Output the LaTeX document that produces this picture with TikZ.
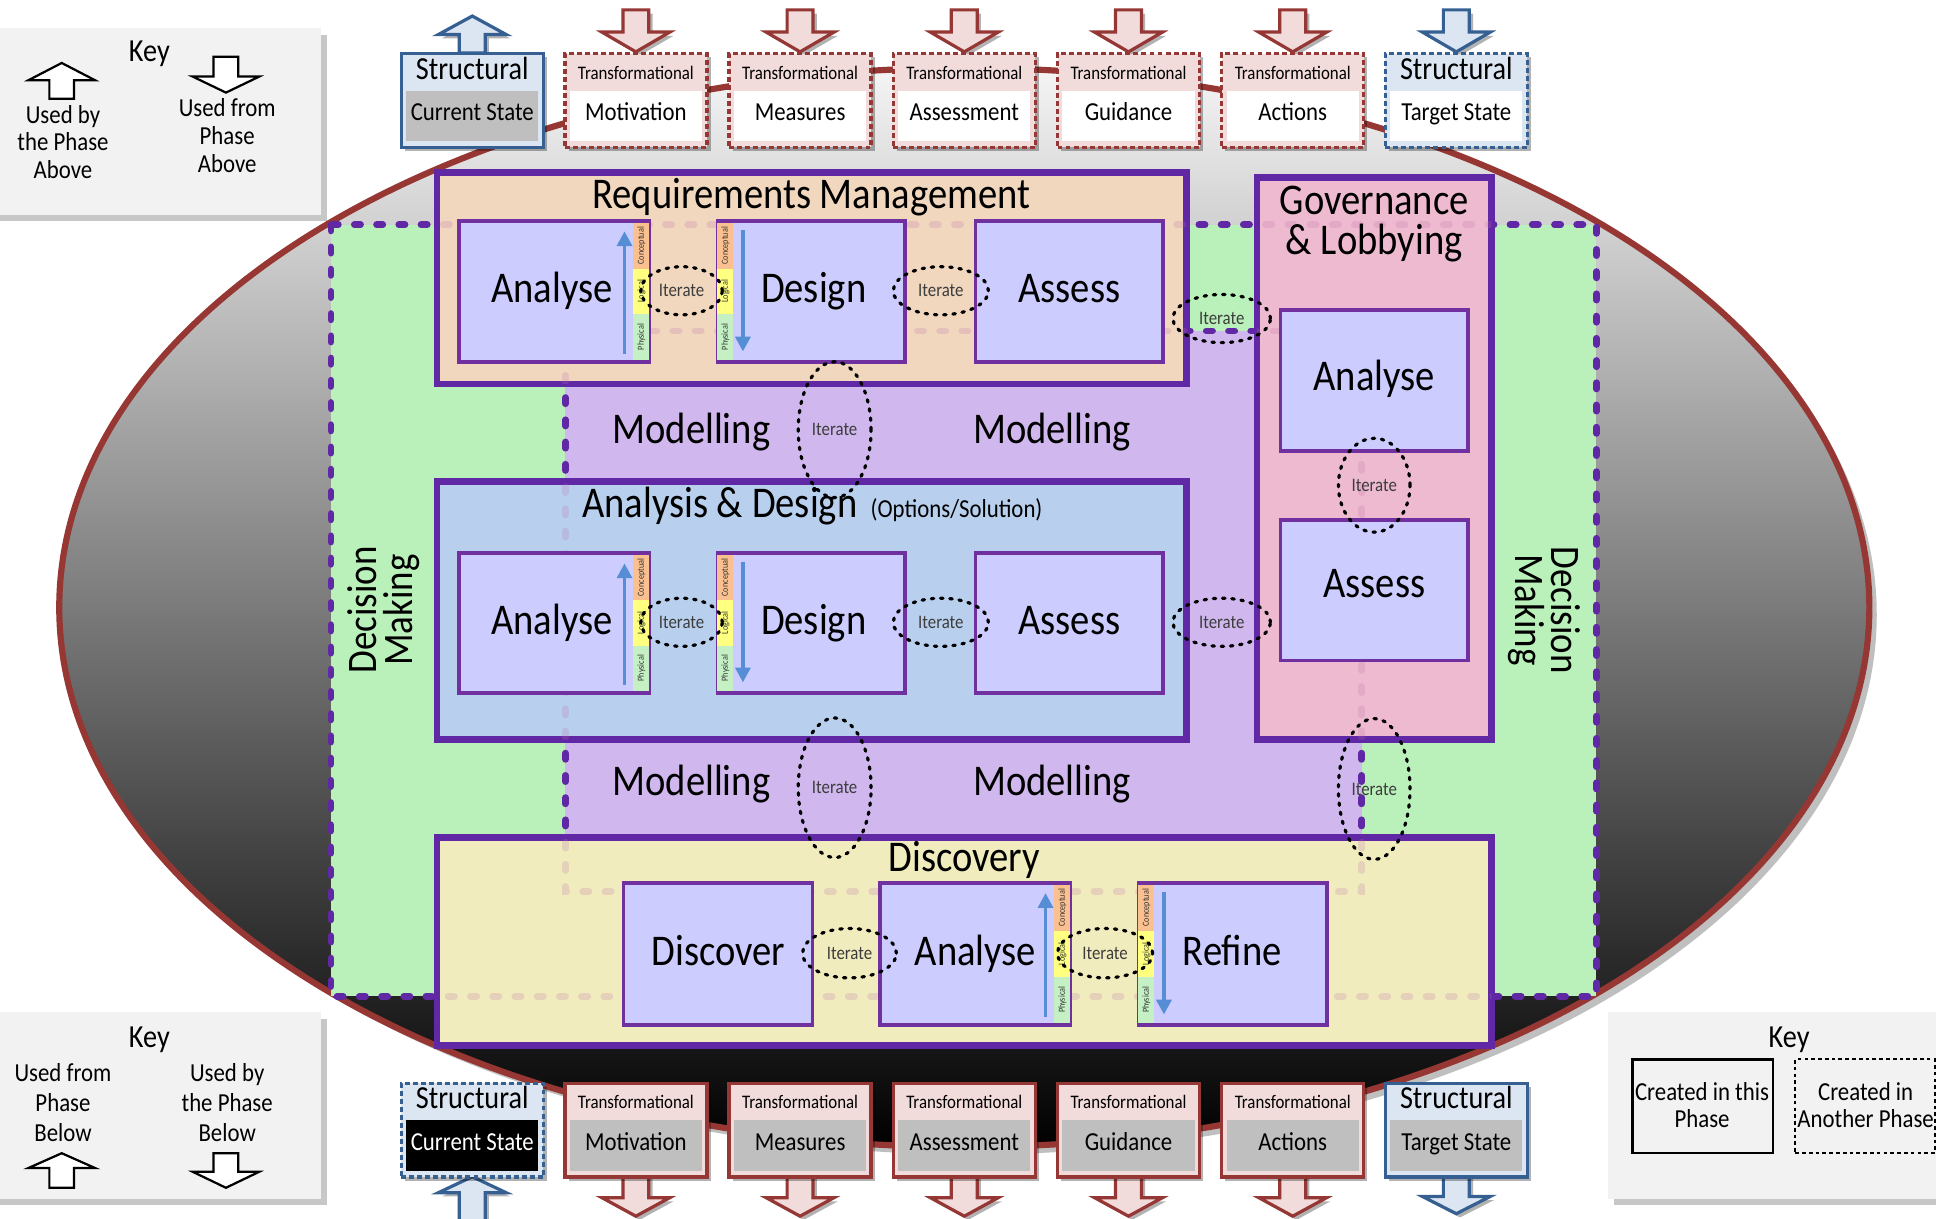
\documentclass[tikz,border=0pt]{standalone}
\usepackage{fontspec}
\setmainfont{Carlito}[FakeStretch=0.88]
\usetikzlibrary{shapes.geometric, shadows, fit, arrows.meta}

\definecolor{ellred}{RGB}{150,55,52}
\definecolor{dmgreen}{RGB}{186,240,186}
\definecolor{modpurple}{RGB}{208,184,238}
\definecolor{rmfill}{RGB}{240,215,190}
\definecolor{adfill}{RGB}{184,208,238}
\definecolor{govfill}{RGB}{238,186,208}
\definecolor{discfill}{RGB}{240,236,190}
\definecolor{innerfill}{RGB}{204,204,255}
\definecolor{innerline}{RGB}{112,48,160}
\definecolor{bigline}{RGB}{96,40,164}
\definecolor{ghostline}{RGB}{190,110,170}
\definecolor{conc}{RGB}{250,192,144}
\definecolor{logi}{RGB}{255,255,128}
\definecolor{phys}{RGB}{196,240,196}
\definecolor{axisblue}{RGB}{85,142,213}
\definecolor{stline}{RGB}{55,96,146}
\definecolor{stfill}{RGB}{220,230,242}
\definecolor{trline}{RGB}{149,55,53}
\definecolor{trfill}{RGB}{242,220,219}
\definecolor{bodygray}{RGB}{191,191,191}
\definecolor{keyfill}{RGB}{242,242,242}
\definecolor{itgray}{RGB}{60,60,60}

\newcommand{\fBig}{\fontsize{35.5}{38}\selectfont}
\newcommand{\fDM}{\fontsize{34}{29}\selectfont}
\newcommand{\fIt}{\fontsize{15.5}{17}\selectfont}
\newcommand{\fStruct}{\fontsize{26}{28}\selectfont}
\newcommand{\fBody}{\fontsize{21}{23}\selectfont}
\newcommand{\fTrans}{\fontsize{15.5}{17}\selectfont}
\newcommand{\fKey}{\fontsize{26}{28}\selectfont}
\newcommand{\fKeyTxt}{\fontsize{21}{22.5}\selectfont}
\newcommand{\fKeyTxtB}{\fontsize{21}{24.5}\selectfont}
\newcommand{\fStrip}{\fontsize{7.5}{8}\selectfont}

% block arrow pointing up: centre x, tip y, head base y, tail y, head half width, shaft half width, style
\newcommand{\blockUp}[7]{%
  \draw[#7] (#1,#2) -- (#1+#5,#3) -- (#1+#6,#3) -- (#1+#6,#4) -- (#1-#6,#4) -- (#1-#6,#3) -- (#1-#5,#3) -- cycle;}
% block arrow pointing down: centre x, tail y, head base y, tip y, head half width, shaft half width, style
\newcommand{\blockDown}[7]{%
  \draw[#7] (#1-#6,#2) -- (#1+#6,#2) -- (#1+#6,#3) -- (#1+#5,#3) -- (#1,#4) -- (#1-#5,#3) -- (#1-#6,#3) -- cycle;}

% input/output artefact box: name, centre x, top y, frame style, header fill, body fill, header text, body text
\newcommand{\ioBox}[8]{%
  \node[iobox, #4, fill=#5, minimum width=115pt, minimum height=76pt, anchor=north] (#1) at (#2,#3) {};
  \fill[#6] (#2-53.5,#3+31.5) rectangle (#2+53.5,#3+72.5);
  \node[iotext, anchor=base] (#1h) at (#2,#3+22) {#7};
  \node[iotext, anchor=base] (#1b) at (#2,#3+56) {#8};}

% activity box: name, x1, y1, x2, y2, label, label x, label baseline
\newcommand{\inBox}[8]{%
  \node[inbox, fit={(#2,#3) (#4,#5)}] (#1) {};
  \node[bigtxt, anchor=base] (#1t) at (#7,#8) {#6};}

% conceptual / logical / physical strip: name, left x, top y, bottom y
\newcommand{\cstrip}[4]{%
  \pgfmathsetmacro{\tmpSa}{#3+(#4-#3)/3}%
  \pgfmathsetmacro{\tmpSb}{#3+2*(#4-#3)/3}%
  \fill[conc] (#2,#3) rectangle (#2+13,\tmpSa);
  \fill[logi] (#2,\tmpSa) rectangle (#2+13,\tmpSb);
  \fill[phys] (#2,\tmpSb) rectangle (#2+13,#4);
  \node[fit={(#2,#3) (#2+13,#4)}, inner sep=0pt] (#1) {};
  \node[striptxt] (#1c) at (#2+6.5,{(#3+\tmpSa)/2}) {Conceptual};
  \node[striptxt] (#1l) at (#2+6.5,{(\tmpSa+\tmpSb)/2}) {Logical};
  \node[striptxt] (#1p) at (#2+6.5,{(\tmpSb+#4)/2}) {Physical};}

\begin{document}
\begin{tikzpicture}[x=1pt, y=-1pt,
  bigbox/.style={draw=bigline, line width=5.5pt, inner sep=0pt},
  inbox/.style={draw=innerline, fill=innerfill, line width=3pt, inner sep=0pt},
  regionline/.style={draw=bigline, line width=5.5pt, dash pattern=on 5pt off 13pt, line cap=round},
  ghost/.style={regionline, draw=ghostline, draw opacity=0.22},
  iterate/.style={ellipse, draw=black, line width=2.6pt, dash pattern=on 2pt off 5.5pt, line cap=round, inner sep=0pt, text=itgray, font=\fIt},
  bigtxt/.style={font=\fBig, inner sep=0pt},
  dmtxt/.style={font=\fDM, align=center, inner sep=0pt},
  striptxt/.style={font=\fStrip, rotate=90, inner sep=0pt, text=black!80},
  axisarrow/.style={draw=axisblue, line width=3pt, -{Triangle[length=12pt,width=12pt]}},
  boxshadow/.style={drop shadow={shadow xshift=3pt, shadow yshift=-3pt, opacity=0.3, fill=black}},
  iobox/.style={inner sep=0pt, boxshadow},
  iotext/.style={inner sep=0pt},
  stsolid/.style={draw=stline, line width=2.8pt},
  stdash/.style={stsolid, dash pattern=on 4pt off 2.5pt},
  trsolid/.style={draw=trline, line width=2.8pt},
  trdash/.style={trsolid, dash pattern=on 4pt off 2.5pt},
  trarrow/.style={draw=trline, fill=trfill, line width=2.6pt, boxshadow},
  starrow/.style={draw=stline, fill=stfill, line width=2.6pt, boxshadow},
  keyarrow/.style={draw=black, fill=white, line width=1.8pt},
  keybox/.style={fill=keyfill, inner sep=0pt, drop shadow={shadow xshift=5pt, shadow yshift=-5pt, opacity=0.22, fill=black}},
  keytxt/.style={font=\fKeyTxt, align=center, inner sep=0pt},
  keytxtb/.style={font=\fKeyTxtB, align=center, inner sep=0pt},
  keyhead/.style={font=\fKey, inner sep=0pt},
]
\useasboundingbox (0,0) rectangle (1568,987);
\fill[white] (0,0) rectangle (1568,987);

% the phase as a whole
\path[draw=ellred, line width=5pt, top color=white!96!black, middle color=black!38, bottom color=black,
  drop shadow={shadow xshift=6pt, shadow yshift=-6pt, opacity=0.25, fill=black}]
  (781,492) ellipse [x radius=733, y radius=437];

% keys
\node[keybox, fit={(-10,23) (260,174)}] (keyTop) {};
\node[keyhead, anchor=base] (keyTopT) at (121,50) {Key};
\blockUp{50}{51}{65}{80}{27}{10}{keyarrow}
\blockDown{183}{46}{62}{75}{27}{10}{keyarrow}
\node[keytxt] (keyTopA) at (51,115) {Used by\\the Phase\\Above};
\node[keytxt] (keyTopB) at (184,110) {Used from\\Phase\\Above};

\node[keybox, fit={(-10,820) (260,971)}] (keyBot) {};
\node[keyhead, anchor=base] (keyBotT) at (121,848) {Key};
\node[keytxtb] (keyBotA) at (51,893) {Used from\\Phase\\Below};
\node[keytxtb] (keyBotB) at (184,893) {Used by\\the Phase\\Below};
\blockUp{50}{934}{946}{962}{27}{10}{keyarrow}
\blockDown{183}{934}{949}{962}{27}{10}{keyarrow}

\node[keybox, fit={(1302,820) (1590,971)}] (keyRight) {};
\node[keyhead, anchor=base] (keyRightT) at (1449,848) {Key};
\node[draw=black, line width=2pt, inner sep=0pt, fit={(1322,858) (1436,934)}] (kSolid) {};
\node[draw=black, line width=1.8pt, dash pattern=on 3pt off 2.5pt, inner sep=0pt, fit={(1454,858) (1567,934)}] (kDash) {};
\node[keytxt] (kSolidT) at (1378.5,895) {Created in this\\Phase};
\node[keytxt] (kDashT) at (1511,895) {Created in\\Another Phase};

% inputs along the top
\blockUp{382.5}{13}{28}{43}{27.5}{10.5}{starrow}
\foreach \cx in {515,648,781,914,1047}{\blockDown{\cx}{8}{26}{42}{27.5}{10.5}{trarrow}}
\blockDown{1179.5}{8}{26}{42}{27.5}{10.5}{starrow}

\ioBox{tCur}{382.5}{42}{stsolid}{stfill}{bodygray}{\fStruct Structural}{\fBody Current State}
\ioBox{tMot}{515}{42}{trdash}{trfill}{white}{\fTrans Transformational}{\fBody Motivation}
\ioBox{tMea}{648}{42}{trdash}{trfill}{white}{\fTrans Transformational}{\fBody Measures}
\ioBox{tAss}{781}{42}{trdash}{trfill}{white}{\fTrans Transformational}{\fBody Assessment}
\ioBox{tGui}{914}{42}{trdash}{trfill}{white}{\fTrans Transformational}{\fBody Guidance}
\ioBox{tAct}{1047}{42}{trdash}{trfill}{white}{\fTrans Transformational}{\fBody Actions}
\ioBox{tTgt}{1179.5}{42}{stdash}{stfill}{white}{\fStruct Structural}{\fBody Target State}

% outputs along the bottom
\blockUp{382.5}{953}{966}{992}{27.5}{10.5}{starrow}
\foreach \cx in {515,648,781,914,1047}{\blockDown{\cx}{952}{970}{985}{27.5}{10.5}{trarrow}}
\blockDown{1179.5}{952}{969}{983}{27.5}{10.5}{starrow}

\ioBox{bCur}{382.5}{876}{stdash}{stfill}{black}{\fStruct Structural}{\fBody\color{white}Current State}
\ioBox{bMot}{515}{876}{trsolid}{trfill}{bodygray}{\fTrans Transformational}{\fBody Motivation}
\ioBox{bMea}{648}{876}{trsolid}{trfill}{bodygray}{\fTrans Transformational}{\fBody Measures}
\ioBox{bAss}{781}{876}{trsolid}{trfill}{bodygray}{\fTrans Transformational}{\fBody Assessment}
\ioBox{bGui}{914}{876}{trsolid}{trfill}{bodygray}{\fTrans Transformational}{\fBody Guidance}
\ioBox{bAct}{1047}{876}{trsolid}{trfill}{bodygray}{\fTrans Transformational}{\fBody Actions}
\ioBox{bTgt}{1179.5}{876}{stsolid}{stfill}{bodygray}{\fStruct Structural}{\fBody Target State}

% decision making and modelling regions
\coordinate (dmA) at (268,182);
\coordinate (dmB) at (1293,807);
\coordinate (moA) at (458,268);
\coordinate (moB) at (1103,722);
\fill[dmgreen] (dmA) rectangle (dmB);
\draw[regionline] (dmA) rectangle (dmB);
\fill[modpurple] (moA) rectangle (moB);
\draw[regionline] (moA) rectangle (moB);

% sub-phases
\node[bigbox, fill=rmfill, fit={(354,140) (961,311)}] (rm) {};
\node[bigbox, fill=adfill, fit={(354,390) (961,599)}] (ad) {};
\node[bigbox, fill=govfill, fit={(1018,144) (1208,599)}] (gov) {};
\node[bigbox, fill=discfill, fit={(354,678) (1208,847)}] (disc) {};

% region outlines showing through the sub-phases
\begin{scope}
  \clip (354,140) rectangle (961,311) (354,390) rectangle (961,599)
        (1018,144) rectangle (1208,599) (354,678) rectangle (1208,847);
  \draw[ghost] (dmA) rectangle (dmB);
  \draw[ghost] (moA) rectangle (moB);
\end{scope}

% requirements management
\node[bigtxt, anchor=base] (rmT) at (657,169) {Requirements Management};
\inBox{rmA}{372}{179}{526}{293}{Analyse}{447}{245}
\cstrip{rmAs}{513}{180.5}{291.5}
\draw[axisarrow] ([xshift=-7pt,yshift=5pt]rmAs.south west) -- ([xshift=-7pt,yshift=-7pt]rmAs.north west);
\inBox{rmD}{581}{179}{733}{293}{Design}{659}{245}
\cstrip{rmDs}{581}{180.5}{291.5}
\draw[axisarrow] ([xshift=7.5pt,yshift=-6pt]rmDs.north east) -- ([xshift=7.5pt,yshift=7pt]rmDs.south east);
\inBox{rmS}{790}{179}{942}{293}{Assess}{866}{245}

% analysis and design
\node[bigtxt, anchor=base] (adT) at (583,419) {Analysis \& Design};
\node[font=\fBody, inner sep=0pt, anchor=base west] (adS) at (705,419) {(Options/Solution)};
\inBox{adA}{372}{448}{526}{561}{Analyse}{447}{514}
\cstrip{adAs}{513}{449.5}{559.5}
\draw[axisarrow] ([xshift=-7pt,yshift=5pt]adAs.south west) -- ([xshift=-7pt,yshift=-7pt]adAs.north west);
\inBox{adD}{581}{448}{733}{561}{Design}{659}{514}
\cstrip{adDs}{581}{449.5}{559.5}
\draw[axisarrow] ([xshift=7.5pt,yshift=-6pt]adDs.north east) -- ([xshift=7.5pt,yshift=7pt]adDs.south east);
\inBox{adS2}{790}{448}{942}{561}{Assess}{866}{514}

% governance and lobbying
\node[bigtxt, anchor=base] (govT1) at (1113,174) {Governance};
\node[bigtxt, anchor=base] (govT2) at (1113,206.5) {\& Lobbying};
\inBox{govA}{1037}{251}{1189}{365}{Analyse}{1113}{316}
\inBox{govS}{1037}{421}{1189}{535}{Assess}{1113}{484}

% discovery
\node[bigtxt, anchor=base] (discT) at (781,706) {Discovery};
\inBox{discD}{505}{715}{658}{830}{Discover}{582}{782}
\inBox{discA}{713}{715}{867}{830}{Analyse}{790}{782}
\cstrip{discAs}{854}{716.5}{828.5}
\draw[axisarrow] ([xshift=-7pt,yshift=5pt]discAs.south west) -- ([xshift=-7pt,yshift=-7pt]discAs.north west);
\inBox{discR}{922}{715}{1075}{830}{Refine}{998}{782}
\cstrip{discRs}{922}{716.5}{828.5}
\draw[axisarrow] ([xshift=7.5pt,yshift=-6pt]discRs.north east) -- ([xshift=7.5pt,yshift=7pt]discRs.south east);

% modelling and decision making labels
\node[bigtxt, anchor=base] (mo1) at (560,359) {Modelling};
\node[bigtxt, anchor=base] (mo2) at (852,359) {Modelling};
\node[bigtxt, anchor=base] (mo3) at (560,644) {Modelling};
\node[bigtxt, anchor=base] (mo4) at (852,644) {Modelling};
\node[dmtxt, rotate=90] (dmL) at (311,494) {Decision\\Making};
\node[dmtxt, rotate=-90] (dmR) at (1251,494) {Decision\\Making};

% iteration loops
\node[iterate, minimum width=66pt, minimum height=39pt] (itR1) at (552,235.5) {Iterate};
\node[iterate, minimum width=77pt, minimum height=39pt] (itR2) at (762,235.5) {Iterate};
\node[iterate, minimum width=79pt, minimum height=39pt] (itRG) at (989.5,258) {Iterate};
\node[iterate, minimum width=59pt, minimum height=110pt] (itV1) at (676,348) {Iterate};
\node[iterate, minimum width=66pt, minimum height=39pt] (itA1) at (552,504) {Iterate};
\node[iterate, minimum width=77pt, minimum height=39pt] (itA2) at (762,504) {Iterate};
\node[iterate, minimum width=79pt, minimum height=39pt] (itAG) at (989.5,504) {Iterate};
\node[iterate, minimum width=59pt, minimum height=113pt] (itV2) at (676,638) {Iterate};
\node[iterate, minimum width=58pt, minimum height=76pt] (itG1) at (1113,393) {Iterate};
\node[iterate, minimum width=58pt, minimum height=114pt] (itG2) at (1113,639) {Iterate};
\node[iterate, minimum width=76pt, minimum height=40pt] (itD1) at (688,772) {Iterate};
\node[iterate, minimum width=77pt, minimum height=40pt] (itD2) at (895,772) {Iterate};
\end{tikzpicture}
\end{document}
